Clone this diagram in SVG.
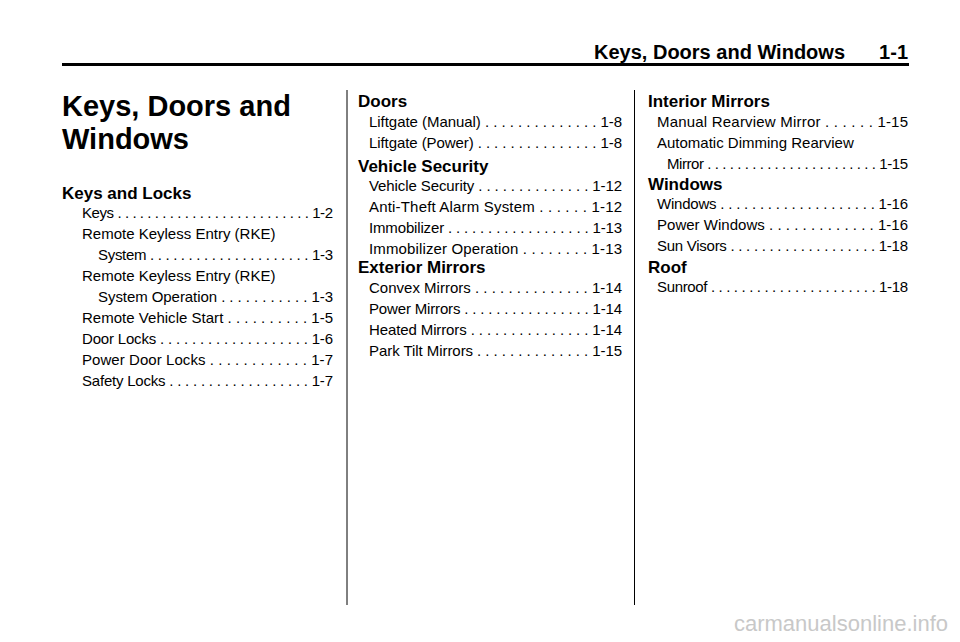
<svg xmlns="http://www.w3.org/2000/svg" width="960" height="642" viewBox="0 0 960 642">
<style>
text{font-family:"Liberation Sans",Arial,sans-serif;fill:#000}
.h{font-weight:bold;font-size:17px}
.e{font-size:15px}
.v{stroke:#000;stroke-width:1}
</style>
<rect width="960" height="642" fill="#fff"/>
<text x="845" y="59" font-size="20" font-weight="bold" text-anchor="end">Keys, Doors and Windows</text>
<text x="908" y="59" font-size="20" font-weight="bold" text-anchor="end">1-1</text>
<line x1="62" y1="64.5" x2="909" y2="64.5" stroke="#000" stroke-width="3"/>
<text x="62" y="116" font-size="29" font-weight="bold">Keys, Doors and</text>
<text x="62" y="149" font-size="29" font-weight="bold">Windows</text>
<line class="v" x1="347" y1="90" x2="347" y2="605"/>
<line class="v" x1="634.5" y1="90" x2="634.5" y2="605"/>
<g id="col1">
<text class="h" x="62" y="199">Keys and Locks</text>
<text class="e" x="82" y="218" textLength="251" lengthAdjust="spacing">Keys . . . . . . . . . . . . . . . . . . . . . . . . . . 1-2</text>
<text class="e" x="82" y="239">Remote Keyless Entry (RKE)</text>
<text class="e" x="98" y="260" textLength="235" lengthAdjust="spacing">System . . . . . . . . . . . . . . . . . . . . . 1-3</text>
<text class="e" x="82" y="281">Remote Keyless Entry (RKE)</text>
<text class="e" x="98" y="302" textLength="235" lengthAdjust="spacing">System Operation . . . . . . . . . . . 1-3</text>
<text class="e" x="82" y="323" textLength="251" lengthAdjust="spacing">Remote Vehicle Start . . . . . . . . . . 1-5</text>
<text class="e" x="82" y="344" textLength="251" lengthAdjust="spacing">Door Locks . . . . . . . . . . . . . . . . . . . 1-6</text>
<text class="e" x="82" y="365" textLength="251" lengthAdjust="spacing">Power Door Locks . . . . . . . . . . . . 1-7</text>
<text class="e" x="82" y="386" textLength="251" lengthAdjust="spacing">Safety Locks . . . . . . . . . . . . . . . . . . 1-7</text>
</g>
<g id="col2">
<text class="h" x="358" y="107">Doors</text>
<text class="e" x="369" y="127" textLength="253" lengthAdjust="spacing">Liftgate (Manual) . . . . . . . . . . . . . . 1-8</text>
<text class="e" x="369" y="148" textLength="253" lengthAdjust="spacing">Liftgate (Power) . . . . . . . . . . . . . . . 1-8</text>
<text class="h" x="358" y="172">Vehicle Security</text>
<text class="e" x="369" y="191" textLength="253" lengthAdjust="spacing">Vehicle Security . . . . . . . . . . . . . . 1-12</text>
<text class="e" x="369" y="212" textLength="253" lengthAdjust="spacing">Anti-Theft Alarm System . . . . . . 1-12</text>
<text class="e" x="369" y="233" textLength="253" lengthAdjust="spacing">Immobilizer . . . . . . . . . . . . . . . . . . 1-13</text>
<text class="e" x="369" y="254" textLength="253" lengthAdjust="spacing">Immobilizer Operation . . . . . . . . 1-13</text>
<text class="h" x="358" y="273">Exterior Mirrors</text>
<text class="e" x="369" y="293" textLength="253" lengthAdjust="spacing">Convex Mirrors . . . . . . . . . . . . . . 1-14</text>
<text class="e" x="369" y="314" textLength="253" lengthAdjust="spacing">Power Mirrors . . . . . . . . . . . . . . . . 1-14</text>
<text class="e" x="369" y="335" textLength="253" lengthAdjust="spacing">Heated Mirrors . . . . . . . . . . . . . . . 1-14</text>
<text class="e" x="369" y="356" textLength="253" lengthAdjust="spacing">Park Tilt Mirrors . . . . . . . . . . . . . . 1-15</text>
</g>
<g id="col3">
<text class="h" x="648" y="107">Interior Mirrors</text>
<text class="e" x="657" y="127" textLength="251" lengthAdjust="spacing">Manual Rearview Mirror . . . . . . 1-15</text>
<text class="e" x="657" y="148">Automatic Dimming Rearview</text>
<text class="e" x="667" y="169" textLength="241" lengthAdjust="spacing">Mirror . . . . . . . . . . . . . . . . . . . . . . . 1-15</text>
<text class="h" x="648" y="190">Windows</text>
<text class="e" x="657" y="209" textLength="251" lengthAdjust="spacing">Windows . . . . . . . . . . . . . . . . . . . . 1-16</text>
<text class="e" x="657" y="230" textLength="251" lengthAdjust="spacing">Power Windows . . . . . . . . . . . . . 1-16</text>
<text class="e" x="657" y="251" textLength="251" lengthAdjust="spacing">Sun Visors . . . . . . . . . . . . . . . . . . . 1-18</text>
<text class="h" x="648" y="273">Roof</text>
<text class="e" x="657" y="292" textLength="251" lengthAdjust="spacing">Sunroof . . . . . . . . . . . . . . . . . . . . . . 1-18</text>
</g>
<text x="948" y="631" font-size="22" text-anchor="end" style="fill:#c8c8c8">carmanualsonline.info</text>
</svg>
